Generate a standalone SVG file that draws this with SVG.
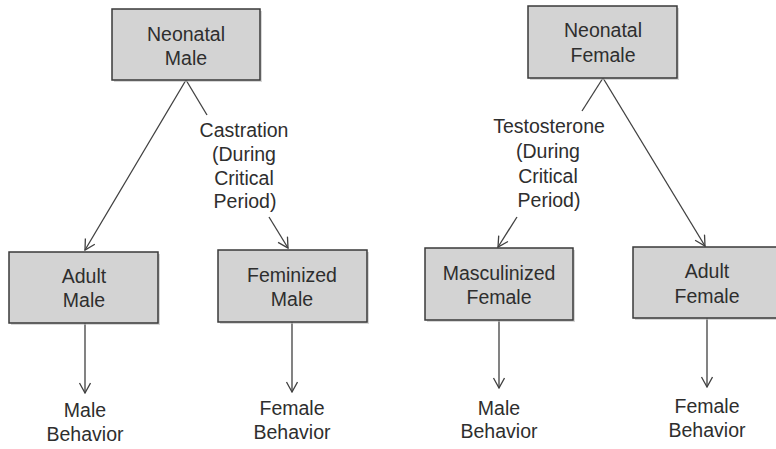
<svg xmlns="http://www.w3.org/2000/svg" width="776" height="449" viewBox="0 0 776 449">
<style>
  .box{fill:#d3d3d3;stroke:#3a3a3a;stroke-width:1.5}
  .shadow{fill:#bdbdbd;opacity:0.6}
  text{font-family:"Liberation Sans",Arial,sans-serif;font-size:19.5px;fill:#2e2e2e;text-anchor:middle}
  .ln{stroke:#404040;stroke-width:1.3;fill:none}
</style>
<defs>
  <marker id="arr" markerWidth="12" markerHeight="14" refX="11" refY="6" orient="auto" markerUnits="userSpaceOnUse">
    <path d="M1,0.5 L11,6 L1,11.5" fill="none" stroke="#404040" stroke-width="1.3"/>
  </marker>
</defs>
<rect width="776" height="449" fill="#ffffff"/>

<g id="connectors">
  <line class="ln" x1="186" y1="80" x2="85" y2="250" marker-end="url(#arr)"/>
  <line class="ln" x1="186" y1="80" x2="207" y2="115"/>
  <line class="ln" x1="269" y1="217" x2="288" y2="248" marker-end="url(#arr)"/>
  <line class="ln" x1="603" y1="78" x2="582" y2="111"/>
  <line class="ln" x1="517" y1="217" x2="498" y2="247" marker-end="url(#arr)"/>
  <line class="ln" x1="603" y1="78" x2="705" y2="246" marker-end="url(#arr)"/>
  <line class="ln" x1="85" y1="323" x2="85" y2="393" marker-end="url(#arr)"/>
  <line class="ln" x1="292" y1="322" x2="292" y2="392" marker-end="url(#arr)"/>
  <line class="ln" x1="499" y1="320" x2="499" y2="388" marker-end="url(#arr)"/>
  <line class="ln" x1="707" y1="318" x2="707" y2="387" marker-end="url(#arr)"/>
  <text x="244" y="137">Castration</text>
  <text x="244" y="161">(During</text>
  <text x="244" y="185">Critical</text>
  <text x="245" y="208">Period)</text>
  <text x="549" y="133">Testosterone</text>
  <text x="548" y="158">(During</text>
  <text x="548" y="183">Critical</text>
  <text x="549" y="207">Period)</text>
</g>

<g id="neonatal-male">
  <rect class="shadow" x="114" y="11" width="148" height="71"/>
  <rect class="box" x="112" y="9" width="148" height="71"/>
  <text x="186" y="41">Neonatal</text>
  <text x="186" y="65">Male</text>
</g>
<g id="neonatal-female">
  <rect class="shadow" x="530" y="8" width="149" height="72"/>
  <rect class="box" x="528" y="6" width="149" height="72"/>
  <text x="603" y="37">Neonatal</text>
  <text x="603" y="62">Female</text>
</g>
<g id="adult-male">
  <rect class="shadow" x="11" y="254" width="149" height="71"/>
  <rect class="box" x="9" y="252" width="149" height="71"/>
  <text x="84" y="283">Adult</text>
  <text x="84" y="307">Male</text>
</g>
<g id="feminized-male">
  <rect class="shadow" x="220" y="252" width="149" height="72"/>
  <rect class="box" x="218" y="250" width="149" height="72"/>
  <text x="292" y="282">Feminized</text>
  <text x="292" y="306">Male</text>
</g>
<g id="masculinized-female">
  <rect class="shadow" x="427" y="250" width="148" height="72"/>
  <rect class="box" x="425" y="248" width="148" height="72"/>
  <text x="499" y="280">Masculinized</text>
  <text x="499" y="304">Female</text>
</g>
<g id="adult-female">
  <rect class="shadow" x="635" y="249" width="148" height="71"/>
  <rect class="box" x="633" y="247" width="148" height="71"/>
  <text x="707" y="278">Adult</text>
  <text x="707" y="303">Female</text>
</g>
<g id="male-behavior-1">
  <text x="85" y="417">Male</text>
  <text x="85" y="441">Behavior</text>
</g>
<g id="female-behavior-1">
  <text x="292" y="415">Female</text>
  <text x="292" y="439">Behavior</text>
</g>
<g id="male-behavior-2">
  <text x="499" y="415">Male</text>
  <text x="499" y="438">Behavior</text>
</g>
<g id="female-behavior-2">
  <text x="707" y="413">Female</text>
  <text x="707" y="437">Behavior</text>
</g>
</svg>
